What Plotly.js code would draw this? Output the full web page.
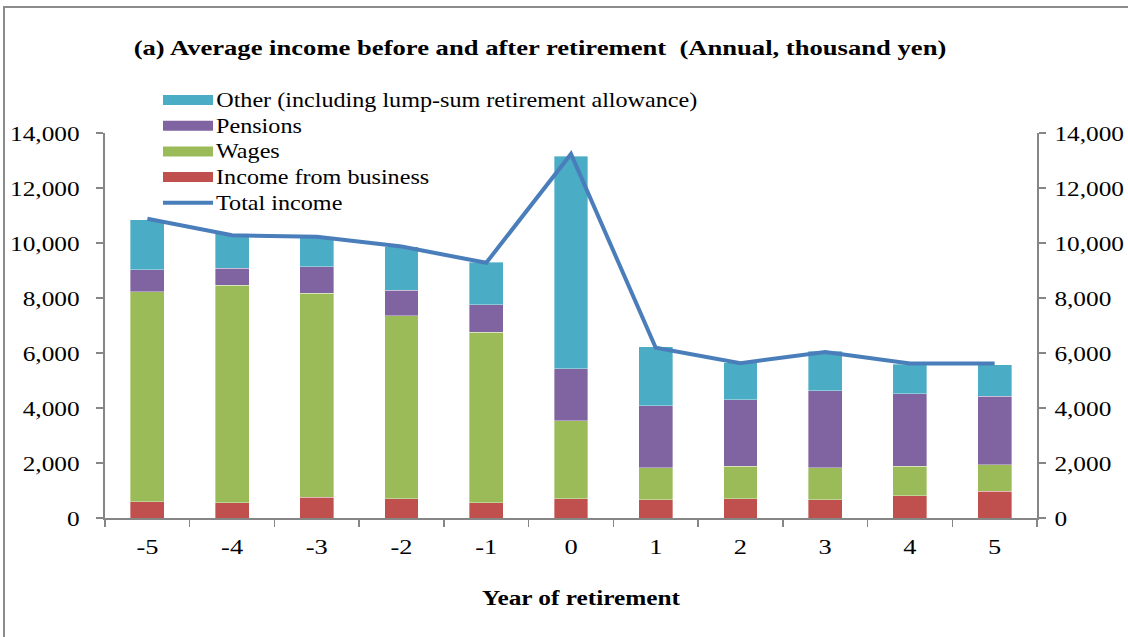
<!DOCTYPE html>
<html>
<head>
<meta charset="utf-8">
<script src="https://cdn.plot.ly/plotly-3.0.1.min.js"></script>
<style>
  html, body { margin: 0; padding: 0; background: #fff; }
  #wrap { position: relative; width: 1128px; height: 637px; overflow: hidden; }
  #frame { position: absolute; left: 3px; top: 6px; width: 1200px; height: 700px;
           border-top: 2px solid #8c8c8c; border-left: 2px solid #8c8c8c; pointer-events: none; z-index: 5; }
  #chart { position: absolute; left: 0; top: 0; width: 1128px; height: 637px; }
</style>
</head>
<body>
<div id="wrap">
  <div id="chart"></div>
  <div id="frame"></div>
</div>
<script>
// Data (thousand yen)
const years = ["-5", "-4", "-3", "-2", "-1", "0", "1", "2", "3", "4", "5"];
const business = [590, 560, 760, 700, 560, 700, 670, 700, 670, 810, 970];
const wages    = [7640, 7900, 7420, 6650, 6190, 2830, 1150, 1190, 1150, 1080, 970];
const pensions = [800, 620, 960, 940, 1010, 1900, 2260, 2410, 2810, 2630, 2480];
const other    = [1810, 1250, 1070, 1580, 1540, 7730, 2140, 1350, 1430, 1080, 1160];
const totalIncome = [10880, 10280, 10230, 9870, 9280, 13240, 6190, 5630, 6040, 5620, 5620];

const seriesNames = {
  other: "Other (including lump-sum retirement allowance)",
  pensions: "Pensions",
  wages: "Wages",
  business: "Income from business",
  total: "Total income"
};
const colors = {
  business: "#c0504d",
  wages: "#9bbb59",
  pensions: "#8064a2",
  other: "#4bacc6",
  total: "#4a7ebb"
};

const font = "'Liberation Serif', 'Times New Roman', serif";

function barTrace(key, vals) {
  return {
    type: "bar", x: years, y: vals, name: seriesNames[key],
    marker: { color: colors[key], line: { color: "rgba(255,255,255,0.6)", width: 0.6 } },
    showlegend: false, hoverinfo: "x+y+name"
  };
}

const traces = [
  barTrace("business", business),
  barTrace("wages", wages),
  barTrace("pensions", pensions),
  barTrace("other", other),
  {
    type: "scatter", mode: "lines", x: years, y: totalIncome, name: seriesNames.total,
    line: { color: colors.total, width: 4 }, showlegend: false
  },
  // invisible trace to activate the right-hand axis
  { type: "scatter", mode: "lines", x: years, y: totalIncome, yaxis: "y2",
    line: { width: 0 }, hoverinfo: "skip", showlegend: false, opacity: 0 }
];

// Custom legend (wide colour boxes, as in the reference)
const legendOrder = ["other", "pensions", "wages", "business", "total"];
const plotL = 105, plotR = 1037, plotT = 133, plotB = 518;
const pw = plotR - plotL, ph = plotB - plotT;
const px = v => (v - plotL) / pw;
const py = v => (plotB - v) / ph;
const shapes = [];
const annotations = [];
legendOrder.forEach((k, i) => {
  const yc = 100 + i * 25.7;
  if (k === "total") {
    shapes.push({ type: "line", xref: "paper", yref: "paper",
      x0: px(163), x1: px(213), y0: py(yc), y1: py(yc),
      line: { color: colors[k], width: 4 } });
  } else {
    shapes.push({ type: "rect", xref: "paper", yref: "paper",
      x0: px(163), x1: px(213), y0: py(yc - 5), y1: py(yc + 5),
      fillcolor: colors[k], line: { width: 0 } });
  }
  annotations.push({ xref: "paper", yref: "paper", x: px(214), y: py(yc),
    xanchor: "left", yanchor: "middle", showarrow: false,
    text: seriesNames[k], font: { family: font, size: 21, color: "#000" } });
});

const axisCommon = {
  range: [0, 14000], tickvals: [0, 2000, 4000, 6000, 8000, 10000, 12000, 14000],
  tickformat: ",d", showgrid: false, zeroline: false, showline: true,
  linecolor: "#868686", linewidth: 2, ticks: "outside", ticklen: 7, tickwidth: 1.5,
  tickcolor: "#868686", tickfont: { family: font, size: 22, color: "#000" }, fixedrange: true
};

const layout = {
  width: 1128, height: 637,
  margin: { l: plotL, r: 1128 - plotR, t: plotT, b: 637 - plotB },
  paper_bgcolor: "#fff", plot_bgcolor: "#fff",
  barmode: "stack", bargap: 0.6,
  title: { text: "<b>(a) Average income before and after retirement  (Annual, thousand yen)</b>",
           font: { family: font, size: 22, color: "#000" }, x: 540 / 1128, xanchor: "center",
           y: 1 - 47 / 637, yanchor: "middle" },
  xaxis: {
    type: "category", categoryorder: "array", categoryarray: years,
    showline: true, linecolor: "#868686", linewidth: 2, ticks: "outside", ticklen: 7,
    tickwidth: 1.5, tickcolor: "#868686", tickson: "boundaries", showgrid: false,
    tickfont: { family: font, size: 22, color: "#000" }, ticklabelstandoff: 8,
    title: { text: "<b>Year of retirement</b>", font: { family: font, size: 22, color: "#000" }, standoff: 31 }
  },
  yaxis: Object.assign({}, axisCommon, { side: "left", ticklabelstandoff: 12 }),
  yaxis2: Object.assign({}, axisCommon, { side: "right", overlaying: "y", ticklabelstandoff: 4 }),
  shapes: shapes,
  annotations: annotations,
  showlegend: false
};

// The reference's serif text is horizontally wider than Liberation Serif at the same height;
// widen each text horizontally about its anchor point with an extra SVG transform.
function stretch(selector, f, anchor, shift) {
  document.querySelectorAll(selector).forEach(t => {
    const bb = t.getBBox();
    if (!bb.width) return;
    let ax = bb.x + bb.width / 2;
    if (anchor === "left") ax = bb.x;
    else if (anchor === "right") ax = bb.x + bb.width;
    const tr = t.getAttribute("transform") || "";
    const s = shift || 0;
    t.setAttribute("transform",
      (tr + ` translate(${(ax + s).toFixed(2)},0) scale(${f},1) translate(${(-ax).toFixed(2)},0)`).trim());
  });
}

Plotly.newPlot("chart", traces, layout, { displayModeBar: false, staticPlot: true }).then(() => {
  stretch(".gtitle", 1.21, "center");
  stretch(".xtitle", 1.15, "center", 10);
  stretch(".xtick text", 1.2, "center");
  stretch(".ytick text", 1.15, "right");
  stretch(".y2tick text", 1.15, "left");
  stretch(".annotation-text", 1.15, "left");
});
</script>
</body>
</html>
